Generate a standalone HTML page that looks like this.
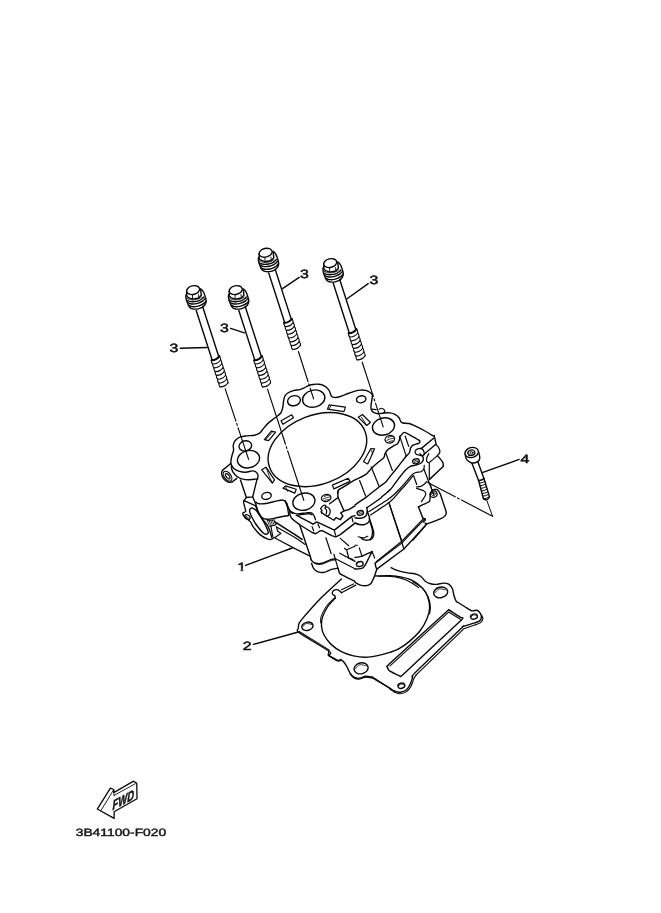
<!DOCTYPE html>
<html><head><meta charset="utf-8"><title>3B41100-F020</title>
<style>
html,body{margin:0;padding:0;background:#fff;}
body{width:661px;height:913px;overflow:hidden;font-family:"Liberation Sans",sans-serif;}
svg{display:block;}
svg text{text-rendering:geometricPrecision;paint-order:stroke;font-family:"Liberation Sans",sans-serif;fill:#111;stroke:#111;stroke-width:0.55;}
</style></head><body>
<svg width="661" height="913" viewBox="0 0 661 913">
<g fill="none" stroke="#080808" stroke-width="1.4" stroke-linecap="round" stroke-linejoin="round">
<defs><g id="bolt"><path d="M323.32 267.51 C323.25 267.85 322.87 268.56 322.92 269.51 C322.97 270.47 323.33 272.2 323.6 273.23 C323.88 274.26 324.26 274.86 324.58 275.69 C324.89 276.52 325.05 277.37 325.49 278.21 C325.93 279.05 326.5 280.12 327.21 280.72 C327.91 281.32 328.87 281.57 329.72 281.81 C330.57 282.05 331.34 282.15 332.3 282.15 C333.25 282.15 334.49 282.01 335.44 281.81 C336.39 281.61 337.2 281.31 338.02 280.95 C338.83 280.59 339.66 280.13 340.3 279.64 C340.94 279.14 341.42 278.57 341.85 277.98 C342.28 277.39 342.65 276.74 342.88 276.09 C343.1 275.44 343.22 274.85 343.22 274.09 C343.22 273.33 343.08 272.42 342.88 271.52 C342.68 270.61 342.38 269.7 342.02 268.66 C341.66 267.61 341.18 266.18 340.7 265.23 C340.23 264.27 339.67 263.51 339.16 262.94 C338.64 262.37 337.87 261.98 337.61 261.79" fill="#fff"/>
<path d="M323.6 273.23 C324.05 273.42 325.27 274.12 326.29 274.38 C327.31 274.63 328.58 274.77 329.72 274.78 C330.87 274.79 332.06 274.64 333.15 274.43 C334.25 274.22 335.3 273.96 336.3 273.52 C337.3 273.08 338.4 272.39 339.16 271.8 C339.92 271.21 340.59 270.28 340.87 269.97"/>
<path d="M324.58 275.69 C325.05 275.87 326.48 276.55 327.44 276.78 C328.39 277.01 329.25 277.08 330.3 277.06 C331.34 277.04 332.63 276.89 333.73 276.66 C334.82 276.43 335.82 276.15 336.87 275.69 C337.92 275.23 339.09 274.64 340.02 273.92 C340.94 273.19 342.02 271.77 342.42 271.34"/>
<path d="M325.49 278.21 C325.93 278.41 327.21 279.14 328.12 279.41 C329.04 279.67 329.95 279.81 330.98 279.81 C332.01 279.81 333.22 279.64 334.3 279.41 C335.38 279.18 336.38 278.89 337.44 278.44 C338.51 277.98 339.76 277.37 340.7 276.66 C341.65 275.96 342.7 274.61 343.1 274.2"/>
<path d="M324 271.23 C324.43 271.44 325.62 272.2 326.58 272.49 C327.53 272.77 328.63 272.93 329.72 272.95 C330.82 272.96 332.11 272.81 333.15 272.6 C334.2 272.39 335.11 272.11 336.01 271.69 C336.92 271.27 338.16 270.35 338.59 270.09" stroke-width="0.8"/>
<path d="M323.72 264.08 L323.89 269.06 L325.43 270.54 L329.72 272.09 L335.73 270.94 L338.42 268.26 L337.73 262.65" fill="#fff"/>
<path d="M329.55 268.26 L329.72 272.09" stroke-width="0.9"/>
<path d="M335.56 267.57 L335.84 270.89" stroke-width="0.9"/>
<ellipse cx="330.25" cy="263.11" rx="6.6" ry="4.3" transform="rotate(-14 330.25 263.11)" fill="#fff"/>
<path d="M333.32 283.48 L349.26 332.97"/>
<path d="M339.78 279.72 L355.75 329.31"/>
<path d="M348.55 333.2 Q348.3 335.38 349.77 337.01 Q349.53 339.19 351 340.82 Q350.75 343 352.22 344.63 Q351.98 346.8 353.45 348.43 Q353.21 350.61 354.68 352.24 Q354.43 354.42 355.9 356.05 Q355.66 358.23 357.13 359.85 " stroke-width="1.1"/>
<path d="M356.49 329.17 Q357.96 330.8 357.72 332.98 Q359.19 334.61 358.94 336.79 Q360.41 338.42 360.17 340.6 Q361.64 342.22 361.4 344.4 Q362.87 346.03 362.62 348.21 Q364.09 349.84 363.85 352.02 Q365.32 353.64 365.07 355.82 " stroke-width="1.1"/>
<path d="M348.55 333.2 Q353.54 333.38 356.49 329.17" stroke-width="2.0"/>
<path d="M349.77 337.01 Q354.77 337.19 357.72 332.98" stroke-width="1.15"/>
<path d="M351 340.82 Q355.99 341 358.94 336.79" stroke-width="1.15"/>
<path d="M352.22 344.63 Q357.22 344.8 360.17 340.6" stroke-width="1.15"/>
<path d="M353.45 348.43 Q358.44 348.61 361.4 344.4" stroke-width="1.15"/>
<path d="M354.68 352.24 Q359.67 352.42 362.62 348.21" stroke-width="1.15"/>
<path d="M355.9 356.05 Q360.9 356.22 363.85 352.02" stroke-width="1.15"/>
<path d="M357.13 359.85 Q362.12 360.03 365.07 355.82" stroke-width="1.15"/></g></defs>
<use href="#bolt" transform="translate(-137.1 27)"/>
<use href="#bolt" transform="translate(-94.5 27)"/>
<use href="#bolt" transform="translate(-64.6 -10.4)"/>
<use href="#bolt" transform="translate(0 0)"/>
<path d="M298.32 628.25 C298.32 627.13 298.55 624.44 299.08 623.25 C299.61 622.07 300.39 620.97 302.86 618.11 C305.33 615.25 315.84 603.21 320.26 598.74 C324.67 594.28 332.41 583.47 340.68 579.83 C348.96 576.2 384.76 568.74 391.18 567.58 C397.6 566.41 394.66 569.41 395.72 569.85 C396.78 570.29 398.85 571.01 400.26 571.36 C401.67 571.71 406.14 572.59 407.82 572.87 C409.5 573.16 413.13 573.39 414.63 573.78 C416.13 574.17 419.45 575.34 420.68 576.2 C421.92 577.07 424.07 580.31 425.22 581.2 C426.37 582.08 429.19 583.4 430.51 583.77 C431.84 584.14 435.07 584.44 436.57 584.37 C438.07 584.3 441.96 583.18 443.37 583.16 C444.79 583.14 447.61 583.57 448.67 584.22 C449.73 584.87 451.83 587.44 452.45 588.76 C453.07 590.08 453.52 594.1 453.96 595.57 C454.4 597.03 455.75 600.5 456.23 601.32 C456.71 602.13 457.07 601.89 458.08 602.53 C459.09 603.16 463.3 605.79 464.89 606.76 C466.48 607.73 470.28 610.44 471.69 610.85 C473.11 611.25 475.97 609.92 476.99 610.24 C478.01 610.56 479.96 612.71 480.47 613.57 C480.98 614.44 481.52 616.77 481.38 617.66 C481.24 618.54 480.04 620.52 479.26 621.13 C478.48 621.75 476.31 622.42 474.72 622.95 C473.13 623.48 467.09 625.21 465.64 625.67 C464.2 626.13 462.91 626.5 462.31 626.88 C461.71 627.27 466.02 623.64 460.5 629 C454.97 634.37 420.54 667.23 414.96 672.87 C409.38 678.52 413.31 675.97 412.69 677.41 C412.08 678.86 410.46 683.78 409.67 685.28 C408.87 686.78 407.03 689.46 405.89 690.27 C404.74 691.08 401.25 692.2 399.83 692.24 C398.42 692.27 394.93 691.03 393.78 690.57 C392.63 690.12 392.49 689.88 390 688.31 C387.51 686.73 375.29 678.52 372.45 677.11 C369.61 675.7 367.23 676.06 365.64 676.2 C364.05 676.34 360.25 678.25 358.84 678.32 C357.42 678.39 354.56 677.41 353.54 676.81 C352.52 676.21 350.91 674.48 350.06 673.18 C349.21 671.87 347.25 667.13 346.28 665.61 C345.31 664.09 342.66 660.7 341.74 660.17 C340.82 659.64 339.95 661.6 338.41 661.07 C336.88 660.54 329.6 656.72 328.58 655.63 C327.55 654.53 333.08 654.36 329.64 651.69 C326.2 649.03 302.73 635.52 299.08 632.78 C295.42 630.05 298.32 629.36 298.32 628.25Z" fill="#fff" stroke="none"/>
<path d="M372.45 677.11 C371.66 677 367.23 676.06 365.64 676.2 C364.05 676.34 360.25 678.25 358.84 678.32 C357.42 678.39 354.56 677.41 353.54 676.81 C352.52 676.21 350.91 674.48 350.06 673.18 C349.21 671.87 347.25 667.13 346.28 665.61 C345.31 664.09 342.66 660.7 341.74 660.17 C340.82 659.64 339.95 661.6 338.41 661.07 C336.88 660.54 329.6 656.72 328.58 655.63 C327.55 654.53 333.08 654.36 329.64 651.69 C326.2 649.03 302.73 635.52 299.08 632.78 C295.42 630.05 298.32 629.36 298.32 628.25 C298.32 627.13 298.55 624.44 299.08 623.25 C299.61 622.07 300.39 620.97 302.86 618.11 C305.33 615.25 315.76 603.3 320.26 598.74 C324.76 594.19 338.97 581.37 341.44 579.08"/>
<path d="M391.18 567.58 C391.71 567.84 394.66 569.41 395.72 569.85 C396.78 570.29 398.85 571.01 400.26 571.36 C401.67 571.71 406.14 572.59 407.82 572.87 C409.5 573.16 413.13 573.39 414.63 573.78 C416.13 574.17 419.45 575.34 420.68 576.2 C421.92 577.07 424.07 580.31 425.22 581.2 C426.37 582.08 429.19 583.4 430.51 583.77 C431.84 584.14 435.07 584.44 436.57 584.37 C438.07 584.3 441.96 583.18 443.37 583.16 C444.79 583.14 447.61 583.57 448.67 584.22 C449.73 584.87 451.83 587.44 452.45 588.76 C453.07 590.08 453.52 594.1 453.96 595.57 C454.4 597.03 455.75 600.5 456.23 601.32 C456.71 602.13 457.07 601.89 458.08 602.53 C459.09 603.16 463.3 605.79 464.89 606.76 C466.48 607.73 470.28 610.44 471.69 610.85 C473.11 611.25 475.97 609.92 476.99 610.24 C478.01 610.56 479.96 612.71 480.47 613.57 C480.98 614.44 481.52 616.77 481.38 617.66 C481.24 618.54 480.04 620.52 479.26 621.13 C478.48 621.75 476.31 622.42 474.72 622.95 C473.13 623.48 467.09 625.21 465.64 625.67 C464.2 626.13 462.91 626.5 462.31 626.88 C461.71 627.27 466.02 623.64 460.5 629 C454.97 634.37 420.54 667.23 414.96 672.87 C409.38 678.52 413.31 675.97 412.69 677.41 C412.08 678.86 410.46 683.78 409.67 685.28 C408.87 686.78 407.03 689.46 405.89 690.27 C404.74 691.08 401.25 692.2 399.83 692.24 C398.42 692.27 394.93 691.03 393.78 690.57 C392.63 690.12 392.49 689.88 390 688.31 C387.51 686.73 374.5 678.42 372.45 677.11"/>
<path d="M298.77 631.27 L329.03 649.88 L328.12 655.02 L338.11 660.47 L341.13 659.26" stroke-width="1.15"/>
<path d="M350.06 674.08 C350.47 674.51 352.52 677.12 353.54 677.72 C354.56 678.32 357.42 679.3 358.84 679.23 C360.25 679.16 364.05 677.25 365.64 677.11 C367.23 676.97 371.66 677.91 372.45 678.02" stroke-width="1.15"/>
<path d="M372.45 678.02 L389.85 688.31 L390 689.21 L393.78 691.48" stroke-width="1.15"/>
<path d="M393.78 691.94 C394.49 692.15 398.33 693.79 399.83 693.75 C401.33 693.72 405.35 692.48 406.64 691.63 C407.93 690.79 410.03 688.01 410.88 686.49 C411.72 684.97 413.29 679.98 413.9 678.62 C414.52 677.26 415.91 675.28 416.17 674.84" stroke-width="1.15"/>
<path d="M416.17 674.84 L461.71 630.82 L463.83 628.7 L475.48 624.77" stroke-width="1.15"/>
<path d="M475.48 624.77 C476.08 624.52 479.76 623.39 480.62 622.65 C481.49 621.91 482.77 619.26 482.89 618.41 C483.01 617.56 481.82 615.74 481.68 615.39" stroke-width="1.15"/>
<path d="M335.39 597.99 C334.13 599.37 329.96 603.16 327.82 606.31 C325.68 609.46 323.59 613.62 322.53 616.9 C321.47 620.18 321.22 622.95 321.47 625.98 C321.72 629 322.48 632.03 324.04 635.05 C325.6 638.08 327.95 641.36 330.85 644.13 C333.75 646.9 337.66 649.73 341.44 651.69 C345.22 653.66 349.51 655 353.54 655.93 C357.57 656.86 361.61 657.34 365.64 657.29 C369.68 657.24 373.71 656.43 377.75 655.63 C381.78 654.82 386.29 653.61 389.85 652.45 C393.4 651.29 395.77 650.56 399.08 648.67 C402.38 646.78 406.14 644.13 409.67 641.1 C413.2 638.08 417.36 634.3 420.26 630.51 C423.16 626.73 425.5 622.19 427.07 618.41 C428.63 614.63 429.51 611.35 429.64 607.82 C429.76 604.29 429.01 600.51 427.82 597.23 C426.64 593.95 425.05 590.93 422.53 588.15 C420.01 585.38 416.35 582.48 412.69 580.59 C409.04 578.7 404.37 577.61 400.59 576.81 C396.81 576 393.84 575.9 390 575.75 C386.16 575.6 380.9 575.82 377.56 575.9 C374.23 575.98 371.26 576.15 370 576.2" fill="#fff"/>
<path d="M333.87 597.99 C332.61 599.37 328.45 603.16 326.31 606.31 C324.17 609.46 321.95 614.13 321.01 616.9 C320.08 619.67 320.76 621.94 320.71 622.95" stroke-width="1.0"/>
<path d="M412.69 581.8 C414.41 582.96 420.36 586.14 422.98 588.76 C425.6 591.38 427.19 594.48 428.43 597.53 C429.66 600.58 430.19 604.34 430.39 607.07 C430.6 609.79 429.76 612.74 429.64 613.87" stroke-width="1.05"/>
<path d="M335.39 597.99 C335.31 597.69 335.16 596.22 334.78 595.72 C334.4 595.21 332.75 594.81 332.51 594.21 C332.27 593.6 332.48 591.79 332.97 591.18 C333.45 590.57 335.3 589.75 336.14 589.67 C336.99 589.59 338.61 590.17 339.32 590.57 C340.03 590.98 341.15 592.41 341.44 592.69"/>
<path d="M341.44 592.69 L355.81 585.13" stroke-width="1.15"/>
<path d="M341.44 589.67 L353.54 583.92" stroke-width="1.15"/>
<ellipse cx="307.4" cy="626.28" rx="5.75" ry="4.08" transform="rotate(-14 307.4 626.28)"/>
<path d="M302.8 626.69 C303.37 626.18 304.76 624 306.25 623.62 C307.73 623.25 310.8 624.3 311.71 624.44" stroke-width="0.8"/>
<ellipse cx="361.1" cy="668.34" rx="7.11" ry="5.45" transform="rotate(-14 361.1 668.34)"/>
<path d="M355.42 668.88 C356.13 668.2 357.85 665.3 359.68 664.8 C361.52 664.3 365.31 665.7 366.44 665.89" stroke-width="0.8"/>
<ellipse cx="440.68" cy="592.39" rx="7.11" ry="5.3" transform="rotate(-14 440.68 592.39)"/>
<path d="M434.99 592.92 C435.7 592.26 437.42 589.43 439.26 588.95 C441.1 588.46 444.89 589.83 446.01 590.01" stroke-width="0.8"/>
<ellipse cx="473.96" cy="616.6" rx="3.48" ry="2.57" transform="rotate(-14 473.96 616.6)"/>
<path d="M471.18 616.85 C471.53 616.53 472.37 615.16 473.27 614.92 C474.17 614.69 476.02 615.35 476.57 615.44" stroke-width="0.8"/>
<ellipse cx="401.35" cy="685.73" rx="3.48" ry="2.57" transform="rotate(-14 401.35 685.73)"/>
<path d="M398.56 685.99 C398.91 685.67 399.75 684.3 400.65 684.06 C401.55 683.83 403.41 684.49 403.96 684.58" stroke-width="0.8"/>
<path d="M446.73 611.6 C450.37 608.34 448.46 609.89 449.3 610.24 C450.15 610.6 460.08 616.92 460.8 617.5 C461.53 618.08 464.88 616.49 461.41 619.92 C457.93 623.36 406.55 671.33 402.86 674.69 C399.16 678.05 400.61 676.12 399.83 675.9 C399.06 675.68 390.69 671.44 390 671.06 C389.31 670.68 388.48 669.8 388.34 669.55 C388.19 669.29 387.56 667.12 387.58 666.82 C387.6 666.52 385.09 667.87 388.64 664.55 C392.19 661.24 443.09 614.86 446.73 611.6Z"/>
<path d="M390 665.92 L448.7 612.06 L460.35 619.17" stroke-width="1.1"/>
<path d="M377.84 576.25 C379.04 576.25 384.25 576.11 386.87 576.25 C389.49 576.4 394.94 576.81 397.49 577.32 C400.04 577.83 403.86 579.2 405.99 580.08 C408.11 580.96 411.72 582.88 413.42 583.9 C415.12 584.92 418.03 587.22 418.73 587.73" stroke-width="1.15"/>
<path d="M299.87 525.59 L310.49 556.92 L312.09 564.36 L316.87 571.26 L324.3 572.32 L331.74 569.14 L338.11 568.61 L340.24 573.92 L355 582.42 L360.31 585.07 L366.68 585.6 L370.93 583.48 L374.12 577.1 L376.24 568.61 L403.86 548.95 L425 526.12 L425 490 L355 490Z" fill="#fff" stroke="none"/>
<path d="M230.93 463.99 C230.93 463.46 230.76 462.22 230.93 460.81 C231.11 459.39 231.55 457.26 232 455.49 C232.44 453.72 233.38 451.95 233.59 450.18 C233.8 448.41 232.92 446.55 233.27 444.87 C233.62 443.19 234.51 441.42 235.71 440.09 C236.92 438.76 238.64 437.61 240.49 436.9 C242.35 436.2 244.57 436.11 246.87 435.84 C249.17 435.58 252.18 435.75 254.3 435.31 C256.43 434.87 258.29 434.07 259.61 433.19 C260.94 432.3 260.96 431.55 262.27 430 C263.58 428.45 265.36 425.9 267.49 423.87 C269.62 421.84 272.83 419.64 275.05 417.82 C277.27 416.01 279.49 414.87 280.8 412.98 C282.11 411.09 282.44 408.57 282.92 406.48 C283.4 404.38 283.33 402.18 283.68 400.42 C284.02 398.67 284.25 397.21 285 395.93 C285.75 394.65 286.77 393.63 288.19 392.75 C289.6 391.86 291.55 391.15 293.5 390.62 C295.45 390.09 298.1 390 299.87 389.56 C301.64 389.12 302.79 388.59 304.12 387.97 C305.45 387.35 306.42 386.43 307.84 385.84 C309.25 385.26 310.76 384.73 312.62 384.46 C314.48 384.2 317.04 384.02 318.99 384.25 C320.94 384.48 322.71 384.96 324.3 385.84 C325.9 386.73 327.53 388.23 328.55 389.56 C329.58 390.89 329.93 392.66 330.46 393.81 C331 394.96 330.91 395.85 331.74 396.46 C332.57 397.08 334.04 397.53 335.46 397.53 C336.87 397.53 338.02 397.17 340.24 396.46 C342.45 395.76 346.27 394.16 348.73 393.28 C351.2 392.39 353.07 391.68 355 391.15 C356.93 390.62 358.54 390.22 360.31 390.09 C362.08 389.97 364.03 390.06 365.62 390.41 C367.22 390.76 368.72 391.47 369.87 392.22 C371.02 392.96 372.08 394.43 372.53 394.87" fill="#fff"/>
<path d="M372.53 394.87 C372.46 395.44 372.18 397.85 372 399.12 C371.81 400.4 371.29 403.23 371.15 404.43 C371 405.64 370.82 407.27 370.93 408.15 C371.05 409.03 371.5 410.38 372 411.02 C372.49 411.65 373.8 412.56 374.65 412.93 C375.5 413.3 377.17 413.78 378.37 413.78 C379.57 413.78 382.12 413.04 383.68 412.93 C385.24 412.82 388.5 412.72 390.05 412.93 C391.61 413.14 394.16 413.89 395.37 414.52 C396.57 415.16 398.38 416.79 399.08 417.71 C399.79 418.63 400.18 420.72 400.68 421.43 C401.17 422.14 401.67 422.74 402.8 423.02 C403.93 423.3 407.62 423.2 409.17 423.55 C410.73 423.91 412.38 424.69 414.49 425.68 C416.6 426.67 422.5 429.62 425 430.99 C427.5 432.36 432.14 435.27 433.24 435.93"/>
<path d="M371.46 409.21 L376.24 409.53" stroke-width="1.2"/>
<path d="M379.22 409.21 C379.61 409.05 380.78 408.2 381.56 408.26 C382.34 408.31 383.36 408.96 383.89 409.53 C384.42 410.1 384.78 411.09 384.74 411.65 C384.71 412.22 383.86 412.72 383.68 412.93" stroke-width="1.2"/>
<ellipse cx="317.4" cy="449.6" rx="51" ry="34.5" transform="rotate(-20.8 317.4 449.6)"/>
<ellipse cx="248.5" cy="459.2" rx="11.2" ry="8.6" transform="rotate(-14 248.5 459.2)"/>
<ellipse cx="245.3" cy="445.9" rx="6.4" ry="5" transform="rotate(-14 245.3 445.9)"/>
<ellipse cx="313.7" cy="398.6" rx="11.3" ry="8.5" transform="rotate(-14 313.7 398.6)"/>
<ellipse cx="383.5" cy="426.5" rx="11.2" ry="8.5" transform="rotate(-14 383.5 426.5)"/>
<ellipse cx="303.9" cy="501.7" rx="11.2" ry="8.5" transform="rotate(-14 303.9 501.7)"/>
<ellipse cx="294" cy="400.7" rx="6.5" ry="5" transform="rotate(-14 294 400.7)"/>
<ellipse cx="361.2" cy="399.3" rx="4.8" ry="3.4" transform="rotate(-14 361.2 399.3)"/>
<ellipse cx="266.5" cy="495.9" rx="4.8" ry="3.4" transform="rotate(-14 266.5 495.9)"/>
<ellipse cx="389.8" cy="439.3" rx="4.8" ry="3.7" transform="rotate(-14 389.8 439.3)" stroke-width="1.3"/>
<path d="M387.63 437.81 Q390.1 436.08 392.57 436.21" stroke-width="0.8"/>
<path d="M386.81 440.37 Q390.1 438.38 393.39 438.23" stroke-width="0.8"/>
<path d="M387.63 442.39 Q390.1 440.67 392.57 440.79" stroke-width="0.8"/>
<ellipse cx="326.2" cy="498" rx="4.8" ry="3.5" transform="rotate(-14 326.2 498)" stroke-width="1.3"/>
<path d="M324.03 496.63 Q326.5 494.95 328.97 495.03" stroke-width="0.8"/>
<path d="M323.21 499.07 Q326.5 497.12 329.79 496.93" stroke-width="0.8"/>
<path d="M324.03 500.97 Q326.5 499.3 328.97 499.37" stroke-width="0.8"/>
<path d="M329.08 404.96 L345.55 407.09 L343.95 411.65 L327.49 409.21Z" stroke-width="1.2"/>
<path d="M330.89 405.81 L329.19 409.11" stroke-width="0.85"/>
<path d="M281.1 420.85 L291.69 414.8 L293.51 417.82 L282.92 424.33Z" stroke-width="1.2"/>
<path d="M264.39 439.56 L271.3 431.06 L275.55 432.12 L268.64 440.62Z" stroke-width="1.2"/>
<path d="M265.99 439.35 L272.89 431.49" stroke-width="0.85"/>
<path d="M261.74 469.83 L265.99 467.18 L274.49 479.93 L272.36 483.11Z" stroke-width="1.2"/>
<path d="M266.84 469.3 L269.81 477.8 L272.15 482.26" stroke-width="0.85"/>
<path d="M282.92 488.17 L285.64 485.9 L296.23 489.23 L294.72 493.16Z" stroke-width="1.2"/>
<path d="M285.64 486.51 L287.46 491.35" stroke-width="0.85"/>
<path d="M358.19 417.18 L362.44 414.52 L370.4 422.49 L366.68 425.46Z" stroke-width="1.2"/>
<path d="M361.37 416.97 L365.83 423.76" stroke-width="0.85"/>
<path d="M370.93 448.51 L374.65 448.83 L367.75 463.92 L363.5 461.79Z" stroke-width="1.2"/>
<path d="M371.57 450.11 L372.63 454.57" stroke-width="0.85"/>
<path d="M332.36 485.13 L348.25 478.32 L350.06 481.35 L333.87 488.91Z" stroke-width="1.2"/>
<path d="M230.93 463.99 C231.38 464.7 232.17 467 233.59 468.24 C235.01 469.48 237.4 470.75 239.43 471.43 C241.47 472.1 243.68 472.37 245.81 472.28 C247.93 472.19 250.5 470.95 252.18 470.9 C253.86 470.84 254.92 471.25 255.9 471.96 C256.87 472.67 257.76 473.96 258.02 475.15 C258.29 476.33 257.58 478.42 257.49 479.08"/>
<path d="M231.25 466.12 C231.46 467 231.52 469.66 232.53 471.43 C233.54 473.2 235.45 475.41 237.31 476.74 C239.17 478.07 241.56 478.9 243.68 479.39 C245.81 479.89 248.02 479.77 250.05 479.71 C252.09 479.66 254.66 479.2 255.9 479.08 C257.14 478.95 257.22 478.99 257.49 478.97"/>
<path d="M230.4 463.78 L222.44 470.37"/>
<path d="M236.78 478.33 L232 482.05"/>
<path d="M222.44 470.37 C222.29 470.9 221.37 472.14 221.59 473.55 C221.8 474.97 222.6 477.45 223.71 478.86 C224.83 480.28 226.9 481.52 228.28 482.05 C229.66 482.58 231.38 482.05 232 482.05"/>
<ellipse cx="227.53" cy="476.21" rx="3.3" ry="5.6" transform="rotate(-38 227.53 476.21)" stroke-width="1.2"/>
<ellipse cx="227.73" cy="476.31" rx="1.5" ry="3.2" transform="rotate(-38 227.73 476.31)" stroke-width="1.2"/>
<path d="M240.49 479.93 L246.34 497.45 L252.71 496.92 L256.96 479.39"/>
<path d="M246.34 497.45 L243.68 501.17"/>
<path d="M252.71 496.92 L255.58 503.51"/>
<path d="M255.81 502.22 C256.23 502.43 257.43 503.67 258.99 503.81 C260.55 503.95 265.22 503.63 267.49 503.28 C269.76 502.92 273.93 501.58 275.99 501.15 C278.04 500.73 281.5 499.91 282.89 500.09 C284.28 500.28 285.68 501.47 286.4 502.53 C287.12 503.6 287.79 506.83 288.31 508.06 C288.83 509.29 289.71 511.07 290.33 511.78 C290.95 512.48 292.99 513.44 292.98 513.37 C292.98 513.3 289.82 511.17 290.31 511.24 C290.8 511.32 294.56 513.69 296.68 513.9 C298.81 514.11 304.26 512.98 306.24 512.84 C308.23 512.7 310.49 512.41 311.56 512.84 C312.62 513.26 313.69 515.1 314.21 516.03 C314.74 516.95 315.32 519.25 315.49 519.74"/>
<path d="M255.81 503.81 C255.95 504.38 256.44 506.78 256.87 508.06 C257.29 509.33 258.28 512.07 258.99 513.37 C259.7 514.67 261.05 517.05 262.18 517.83 C263.31 518.61 265.79 519.17 267.49 519.21 C269.19 519.25 272.94 518.5 274.93 518.15 C276.91 517.8 280.52 516.91 282.36 516.56 C284.2 516.2 287.89 515.64 288.73 515.49"/>
<path d="M286.93 503.81 L288.73 515.49" stroke-width="1.2"/>
<path d="M285 500.62 C285.28 501.33 286.42 504.52 287.12 505.93 C287.83 507.35 289.89 510.54 290.31 511.24"/>
<path d="M296.15 515.49 L300.93 514.64 L309.43 513.58 L311.77 514.64" stroke-width="1.2"/>
<path d="M244.12 500.62 C244.06 500.87 243.4 501.51 243.59 502.75 C243.78 503.99 245.78 510.07 245.71 511.24 C245.65 512.42 243.29 512.32 243.06 512.84 C242.82 513.36 242.83 514.65 243.7 515.71 C244.56 516.76 249.43 520.63 250.49 521.87 C251.56 523.11 251.72 524.84 252.83 526.33 C253.95 527.82 258.37 533.15 260.05 534.61 C261.74 536.08 265.98 538.31 267.28 538.86 C268.58 539.42 270.41 539.56 271.21 539.39 C272 539.23 273.74 537.71 274.08 537.48"/>
<path d="M244.12 500.62 L255.81 505.93"/>
<path d="M255.81 505.93 C256.12 506.81 257.32 510.82 258.14 512.52 C258.96 514.22 260.72 516.98 261.97 518.68 C263.21 520.38 266.4 523.5 267.49 525.27 C268.58 527.04 269.58 530.36 270.15 531.96 C270.71 533.56 271.53 536.56 271.74 537.27"/>
<path d="M249.96 509.12 C250.36 508.7 251.7 507.77 252.62 508.06 C253.54 508.34 255.45 509.55 256.87 511.24 C258.28 512.94 261.75 518.11 263.24 520.81 C264.73 523.5 267.53 529.66 268.02 531.43 C268.52 533.2 267.6 533.87 266.96 534.08 C266.32 534.3 264.73 534.37 263.24 533.02 C261.75 531.68 257.43 526.33 255.81 523.99 C254.18 521.65 251.85 517.19 251.03 515.49 C250.2 513.79 249.79 512.09 249.64 511.24 C249.5 510.4 249.57 509.55 249.96 509.12Z"/>
<ellipse cx="247.31" cy="517.09" rx="3" ry="2.1" transform="rotate(30 247.31 517.09)" stroke-width="1.2"/>
<path d="M245.71 516.03 L248.9 518.47" stroke-width="0.8"/>
<path d="M267.49 520.59 L268.98 524.63" stroke-width="0.8"/>
<path d="M269.08 520.38 L270.57 524.42" stroke-width="0.8"/>
<path d="M270.68 520.17 L272.16 524.2" stroke-width="0.8"/>
<path d="M272.27 519.96 L273.76 523.99" stroke-width="0.8"/>
<path d="M273.86 519.74 L275.35 523.78" stroke-width="0.8"/>
<path d="M266.96 520.81 L274.93 519.96" stroke-width="0.8"/>
<path d="M269.61 526.12 L274.93 525.05 L277.05 523.14" stroke-width="1.2"/>
<path d="M270.89 526.12 L272.8 536.74" stroke-width="1.2"/>
<path d="M274.93 537.48 L280.77 533.55" stroke-width="1.2"/>
<path d="M276.63 527.39 L277.69 531.22 L280.66 533.34" stroke-width="1.2"/>
<path d="M274.93 521.87 L295 534.61 L302 539.39" stroke-width="1.7"/>
<path d="M276.2 526.65 L295 537.48 L305.18 544.39" stroke-width="1.2"/>
<path d="M274.93 538.01 L295 548.64 L309.43 555.86" stroke-width="1.2"/>
<path d="M285 550.76 L292.44 547.89" stroke-width="1.2"/>
<path d="M296.68 515.49 L313.15 524.2 L316.87 521.87 L334.39 530.15 L351.92 516.34 L355 515.71"/>
<path d="M289.25 511.24 C289.53 512.12 290.03 516.06 291.37 517.83 C292.72 519.6 298.28 523.63 299.34 524.52"/>
<path d="M299.34 524.52 L312.09 532.49 L315.81 533.76 L319.84 531 L322.18 530.58 L331.74 535.68 L335.78 536.95 L340.24 534.61 L355 523.14"/>
<path d="M312.09 526.65 L313.68 530.9" stroke-width="1.2"/>
<path d="M317.93 523.99 L319.52 527.71" stroke-width="1.2"/>
<path d="M334.39 530.9 L335.56 535.15" stroke-width="1.2"/>
<path d="M351.92 517.62 L352.98 521.87" stroke-width="1.2"/>
<path d="M320.59 508.59 C320.87 508.24 322 506.36 322.71 505.93 C323.42 505.51 325.54 505.19 325.9 505.4 C326.25 505.62 325.15 507.31 325.37 507.53 C325.58 507.74 326.92 506.78 327.49 507 C328.06 507.21 329.26 508.41 329.61 509.12 C329.97 509.83 330.29 511.46 330.15 512.31 C330 513.16 329.05 515 328.55 515.49 C328.06 515.99 326.71 515.95 326.43 516.03" stroke-width="1.2"/>
<path d="M320.59 508.59 L322.18 510.71 L320.9 511.78 L322.39 513.37 L321.65 512.84" stroke-width="1.2"/>
<path d="M324.83 508.06 C325.08 508.41 326.46 509.93 326.64 510.71 C326.82 511.49 326.27 513.48 326.22 513.9" stroke-width="1.2"/>
<path d="M321.65 512.84 L333.86 520.27 L335.99 517.62 L340.24 519.74 L342.89 516.03 L340.77 512.84 L344.49 510.71 L348.73 509.65 L355 505.93"/>
<path d="M329.61 503.81 L338.11 497.44 L337.58 492.12 L338.64 490"/>
<path d="M338.11 497.44 L343.95 510.71"/>
<path d="M361.37 476.98 C362.08 476.54 365.38 474.79 366.68 473.69 C367.99 472.59 369.73 470.11 371.15 468.7 C372.56 467.28 375.64 464.51 377.31 463.07 C378.98 461.62 382.66 459.09 383.68 457.86 C384.7 456.63 384.39 454.93 384.96 453.83 C385.52 452.72 386.82 450.61 387.93 449.58 C389.03 448.54 391.99 446.82 393.24 446.07 C394.49 445.32 396.47 444.71 397.28 443.95 C398.08 443.18 398.96 441.38 399.3 440.34 C399.64 439.29 399.76 436.65 399.83 436.09"/>
<path d="M359.59 480.59 L365.64 496.02" stroke-width="1.2"/>
<ellipse cx="360.31" cy="512.84" rx="3.3" ry="2.4" transform="rotate(-14 360.31 512.84)" stroke-width="1.3"/>
<path d="M358.63 512.74 Q360.61 511.49 362.59 511.45" stroke-width="0.8"/>
<path d="M358.63 514.22 Q360.61 512.98 362.59 512.94" stroke-width="0.8"/>
<path d="M355 517.83 C355.71 517.89 358.89 518.48 360.31 518.26 C361.73 518.03 364.69 517.04 365.62 516.13 C366.56 515.22 367.18 512.6 367.32 511.46 C367.46 510.31 366.77 508.05 366.68 507.53"/>
<path d="M367.32 511.46 C367.61 512.28 369.25 516.23 369.45 517.62 C369.64 519.01 369.46 520.95 368.81 521.87 C368.16 522.79 365.83 524.17 364.56 524.52 C363.29 524.88 360.52 524.74 359.25 524.52 C357.97 524.31 355.57 523.14 355 522.93"/>
<path d="M369.45 518.68 C369.79 519.67 371.43 524.28 372 526.12 C372.56 527.96 373.61 530.93 373.7 532.49 C373.78 534.05 373.28 536.81 372.63 537.8 C371.98 538.79 369.89 539.64 368.81 539.93 C367.73 540.21 365.55 540.14 364.56 539.93 C363.57 539.71 361.8 538.54 361.37 538.33"/>
<path d="M358.19 536.74 C358.89 536.88 362.22 537.87 363.5 537.8 C364.77 537.73 367.18 536.42 367.75 536.21" stroke-width="1.2"/>
<path d="M299.87 525.59 L310.49 556.92"/>
<path d="M325.9 537.8 L331.21 553.73" stroke-width="1.2"/>
<path d="M333.86 554.27 L338.11 568.61" stroke-width="1.2"/>
<path d="M340.24 538.33 L348.73 545.77" stroke-width="1.2"/>
<path d="M388.99 503.28 L401.74 542.05 L403.86 548.95" stroke-width="1.2"/>
<path d="M310.49 556.92 C310.64 557.42 310.85 559.79 311.56 560.64 C312.26 561.49 314.39 562.94 315.81 563.3 C317.22 563.65 320.34 563.72 322.18 563.3 C324.02 562.87 327.91 560.7 329.61 560.11 C331.31 559.51 334.22 559 334.93 558.83"/>
<path d="M311.13 559.05 C311.36 559.44 312.14 561.34 312.83 562.02 C313.52 562.7 315.09 563.86 316.34 564.14 C317.58 564.43 320.41 564.54 322.18 564.14 C323.95 563.75 327.91 561.74 329.61 561.17 C331.31 560.6 334.22 560.07 334.93 559.9" stroke-width="0.9"/>
<path d="M311.56 563.3 C311.84 564 312.83 567.47 313.68 568.61 C314.53 569.74 316.51 571.3 317.93 571.79 C319.35 572.29 322.6 572.61 324.3 572.32 C326 572.04 328.91 570.24 330.68 569.67 C332.45 569.1 336.66 568.29 337.58 568.08"/>
<path d="M344.49 548.42 L346.61 549.7 L355 546.3" stroke-width="1.2"/>
<path d="M346.61 549.7 L348.73 557.98 L352.98 559.58" stroke-width="1.2"/>
<path d="M339.71 553.2 L355 561.38" stroke-width="1.2"/>
<path d="M335.99 559.05 L355 568.82" stroke-width="1.2"/>
<path d="M338.11 568.61 C338.29 569.05 338.83 572.86 340.24 573.92 C341.64 574.98 353.77 580.73 355 581.35"/>
<path d="M375.18 563.3 L401.74 543.11 L425 518.68" stroke-width="1.2"/>
<path d="M376.24 561.81 L400.89 542.05 L423.2 518.89" stroke-width="1.2"/>
<path d="M376.78 569.14 L403.86 548.95 L425 526.12"/>
<path d="M375.18 563.3 L375.71 566.48 L376.78 569.14"/>
<ellipse cx="359.78" cy="564.04" rx="3.4" ry="2.4" transform="rotate(-14 359.78 564.04)"/>
<path d="M355 557.45 C355.64 557.35 359.67 556.97 361.37 556.39 C363.07 555.81 370.93 552.09 372 551.61"/>
<path d="M372 551.61 C371.57 552.46 369.66 556.28 368.81 557.98 C367.96 559.68 366.47 563.01 365.62 564.36 C364.77 565.7 363.85 567.44 362.44 568.08 C361.02 568.71 355.99 569 355 569.14"/>
<path d="M372 551.4 L374.65 557.98" stroke-width="1.2"/>
<path d="M359.25 547.89 L361.9 555.86" stroke-width="1.2"/>
<path d="M355 545.24 L357.34 545.24" stroke-width="1.2"/>
<path d="M376.78 569.14 C376.42 570.2 374.9 575.19 374.12 577.1 C373.34 579.02 371.93 582.34 370.93 583.48 C369.94 584.61 368.1 585.39 366.68 585.6 C365.27 585.81 361.87 585.5 360.31 585.07 C358.75 584.65 355.71 582.77 355 582.42"/>
<path d="M399.65 437.02 C399.97 436.71 403.16 432.18 404.49 432.42 C405.82 432.66 418.65 439.94 419.62 440.65 C420.59 441.36 419.46 442.77 419.02 443.07 C418.57 443.37 413.53 444.79 412.97 445.13 C412.4 445.47 410.79 447.63 410.54 448.15 C410.3 448.68 409.62 452.47 409.33 453 C409.05 453.52 406.51 455.82 406.31 456.02"/>
<path d="M400.26 437.87 L406.07 455.66" stroke-width="1.2"/>
<path d="M405.1 436.05 L408.73 446.34" stroke-width="1.2"/>
<path d="M385.73 453 L392.39 470.54" stroke-width="1.2"/>
<path d="M371.21 466.91 L379.08 486.28" stroke-width="1.2"/>
<path d="M355 504.87 C356.24 504.03 362.88 499.68 365.62 497.65 C368.36 495.62 376.13 489.31 378.47 487.49 C380.82 485.67 384.39 483.31 385.73 482.04 C387.08 480.77 388.84 478.01 389.97 476.6 C391.1 475.18 393.51 472.34 395.42 469.94 C397.32 467.54 405.04 457.64 406.31 456.02"/>
<path d="M367.22 507.53 C368.76 506.45 378.76 499.56 380.49 498.29 C382.23 497.01 380.93 497.61 382.1 496.57 C383.28 495.52 388.74 491.28 390.57 489.3 C392.41 487.33 396.14 481.81 397.84 479.62 C399.53 477.43 403.69 472.07 405.1 470.54 C406.51 469.02 408.7 467.19 409.94 466.55 C411.18 465.92 414.48 465.48 415.75 465.1 C417.02 464.72 419.96 463.88 420.83 463.28 C421.71 462.69 423.03 460.79 423.25 460.02 C423.48 459.24 423.16 457.36 422.77 456.63 C422.37 455.89 420.2 454.06 419.86 453.72"/>
<path d="M416.23 454.21 C415.85 453.8 414.96 452.43 415.02 451.79 C415.09 451.14 415.94 449.82 416.72 449.36 C417.49 448.91 419.96 448.3 420.83 448.4 C421.7 448.49 422.8 449.24 423.25 450.09 C423.7 450.95 424.54 454.07 424.22 454.81 C423.9 455.55 421.67 455.66 420.83 455.66 C419.99 455.66 418.54 455 417.93 454.81 C417.31 454.62 416.62 454.61 416.23 454.21Z" stroke-width="1.25"/>
<ellipse cx="415.99" cy="461.23" rx="3.4" ry="2.5" transform="rotate(-14 415.99 461.23)" stroke-width="1.3"/>
<path d="M414.25 461.11 Q416.29 459.83 418.33 459.79" stroke-width="0.8"/>
<path d="M414.25 462.66 Q416.29 461.38 418.33 461.34" stroke-width="0.8"/>
<path d="M368.81 511.78 C369.68 511.22 374.01 508.42 376.24 507 C378.48 505.57 385.95 500.92 387.93 499.56 C389.91 498.2 392 496.43 393.24 495.31 C394.48 494.2 397.45 491.12 398.55 490 C399.65 488.88 401.35 487.17 402.68 485.67 C404.01 484.18 408.81 478.5 409.94 477.2 C411.07 475.9 411.65 475.09 412.36 474.54 C413.07 473.99 415 472.81 415.99 472.48 C416.98 472.16 419.91 472.16 420.83 471.75 C421.75 471.35 423.46 469.72 423.86 468.97 C424.25 468.22 424.18 465.76 424.22 465.34" stroke-width="1.25"/>
<path d="M370.4 514.96 C371.27 514.41 375.55 511.73 377.84 510.18 C380.13 508.63 388.01 503.3 390.05 501.68 C392.1 500.07 394.13 497.74 395.37 496.37 C396.6 495.01 399.71 491.08 400.68 490 C401.64 488.92 402.45 488.48 403.65 487.13 C404.84 485.77 409.86 479.68 410.91 478.41 C411.95 477.14 412.4 476.49 412.6 476.23" stroke-width="1.25"/>
<path d="M413.57 475.51 L416.72 484.46" stroke-width="1.2"/>
<path d="M416.6 486.88 C417.16 486.82 419.78 486.79 420.83 486.4 C421.88 486.01 423.66 484.66 424.46 483.98 C425.27 483.3 426.56 481.67 426.88 481.32" stroke-width="1.2"/>
<path d="M416.6 488.34 C417.26 488.55 422.34 490.05 423.25 490.51 C424.16 490.97 425.49 492.38 425.67 492.93 C425.85 493.49 425.49 495.21 425.07 496.08 C424.64 496.95 421.8 501.09 421.44 501.65" stroke-width="1.2"/>
<path d="M423.98 469.33 L428.82 482.04" stroke-width="1.2"/>
<path d="M428.82 482.04 L433.9 494.75" stroke-width="1.2"/>
<path d="M430.51 483.86 L432.45 492.93" stroke-width="0.9"/>
<ellipse cx="433.54" cy="494.15" rx="3.6" ry="3.1" transform="rotate(-20 433.54 494.15)" stroke-width="1.25"/>
<ellipse cx="433.54" cy="494.15" rx="1.9" ry="1.5" transform="rotate(-20 433.54 494.15)" stroke-width="0.7"/>
<path d="M418.41 506.85 C418.9 506.61 422.14 504.98 423.25 504.43 C424.37 503.89 428.84 502.31 429.55 501.41 C430.25 500.5 429.99 496.47 430.27 495.36 C430.55 494.24 431.64 490.85 432.33 490.27 C433.02 489.69 436.38 489.18 437.17 489.55 C437.96 489.91 439.58 492.54 440.2 493.9 C440.81 495.27 442.74 501.38 443.34 503.22 C443.95 505.06 446.08 511.03 446.25 512.3 C446.42 513.57 445.52 515.33 445.04 515.93 C444.55 516.54 443.22 517.56 441.41 518.35 C439.59 519.14 428.52 523.34 426.88 523.8 C425.25 524.26 425.25 523.03 425.07 522.95"/>
<path d="M418.41 506.85 L422.77 517.87"/>
<path d="M422.77 517.87 L425.43 519.32" stroke-width="1.2"/>
<path d="M423.25 522.22 L425.43 520.17 L425.07 518.96" stroke-width="1.2"/>
<path d="M412.97 540.02 L426.88 523.8"/>
<path d="M389.36 503.83 L401.47 540.02" stroke-width="1.2"/>
<path d="M370 521.98 C370.32 523.11 372.18 528.52 372.42 530.45 C372.66 532.39 372.14 535.23 371.82 536.51 C371.49 537.78 370.24 539.55 370 540.02" stroke-width="1.2"/>
<path d="M434.15 435.45 L436.08 444.04"/>
<path d="M420.83 448.88 L433.66 438.23"/>
<path d="M423.98 454.21 L435.6 444.52"/>
<path d="M435.96 444.52 C436.36 445.01 438.49 447.09 438.99 448.15 C439.49 449.22 439.94 451.51 439.71 452.51 C439.49 453.51 438.65 454.37 437.29 455.66 C435.94 456.95 430.93 461.42 429.55 462.19 C428.16 462.97 427.24 462.11 426.88 461.47 C426.53 460.82 426.63 458.39 426.88 457.35 C427.14 456.32 428.56 454.21 428.82 453.72" stroke-width="1.25"/>
<path d="M437.78 456.02 C438.42 456.83 441.87 460.7 442.62 462.07 C443.36 463.44 443.25 465.74 443.34 466.31"/>
<path d="M443.34 466.31 L429.3 479.62"/>
<path d="M429.3 462.92 L429.3 479.02" stroke-width="1.2"/>
<path d="M337.82 493.16 C337.93 492.77 337.85 490.68 338.73 489.83 C339.61 488.99 343.55 487.03 345.39 485.9 C347.22 484.77 352.59 481.19 354.46 480.15 C356.33 479.11 360.61 477.34 361.42 476.97"/>
<path d="M225.2 388.9 L248.6 459.4" stroke-width="1.15" stroke-dasharray="34 2.5 2 2.5 100"/>
<path d="M267.5 389.1 L303.8 500.3" stroke-width="1.15" stroke-dasharray="58 2.5 2 2.5 100"/>
<path d="M298.4 351.5 L313.6 398.9" stroke-width="1.15" stroke-dasharray="31.5 2.5 2 2.5 100"/>
<path d="M362.2 362.2 L383.2 426.9" stroke-width="1.15" stroke-dasharray="36 2.5 2 2.5 100"/>
<path d="M180.2 348.2 L207.6 347.5"/>
<path d="M230.6 328.3 L244.4 332.9"/>
<path d="M299.2 277.4 L282.5 288.7"/>
<path d="M368.2 283.6 L347.1 298.7"/>
<path d="M245.6 565.4 L292.5 547.9"/>
<path d="M253.4 644.4 L297.6 632.3"/>
<path d="M519.1 459.4 L482.2 472.7"/>
<path d="M465.17 453.56 C465.29 454.22 465.53 456.42 465.89 457.55 C466.26 458.68 466.34 459.43 467.34 460.33 C468.35 461.24 470.21 462.79 471.94 463 C473.68 463.2 476.44 462.35 477.75 461.54 C479.06 460.74 479.65 459.73 479.81 458.15 C479.97 456.58 478.9 453.11 478.72 452.1" fill="#fff"/>
<ellipse cx="471.7" cy="452.47" rx="6.8" ry="5" transform="rotate(-14 471.7 452.47)" fill="#fff"/>
<ellipse cx="471.34" cy="452.71" rx="3.5" ry="2.7" transform="rotate(-14 471.34 452.71)"/>
<ellipse cx="471.44" cy="452.91" rx="1.6" ry="1.2" transform="rotate(-14 471.44 452.91)" stroke-width="0.9"/>
<path d="M471.94 463.36 L478.6 480.54 L483.44 498.7"/>
<path d="M478 462.15 L484.05 478.73 L489.49 496.88"/>
<path d="M483.44 498.7 C483.99 498.9 485.7 500.21 486.71 499.91 C487.72 499.61 489.03 497.39 489.49 496.88"/>
<path d="M478.6 480.54 Q481.2 480.73 484.05 478.73" stroke-width="1.5"/>
<path d="M479.29 483.14 Q481.94 483.32 484.82 481.32" stroke-width="1.0"/>
<path d="M479.98 485.73 Q482.67 485.91 485.6 483.92" stroke-width="1.0"/>
<path d="M480.68 488.33 Q483.41 488.51 486.38 486.51" stroke-width="1.0"/>
<path d="M481.37 490.92 Q484.14 491.1 487.16 489.1" stroke-width="1.0"/>
<path d="M482.06 493.51 Q484.88 493.69 487.94 491.7" stroke-width="1.0"/>
<path d="M482.75 496.11 Q485.61 496.29 488.72 494.29" stroke-width="1.0"/>
<path d="M483.44 498.7 Q486.35 498.88 489.49 496.88" stroke-width="1.0"/>
<path d="M487.1 501.1 L492.5 516.2" stroke-width="1.0"/>
<path d="M492.5 516.2 L427.7 482.5" stroke-width="1.15" stroke-dasharray="35 2.5 2 2.5 100"/>
<path d="M97.26 809.04 L110.42 788.16 L113.78 789.52 L114.14 792.43 L133.57 781.17 L136.75 783.35 L137.02 798.78 L114.14 811.76 L114.14 818.39Z" stroke-width="1.3" fill="#fff"/>
<path d="M101.07 810.4 L113.24 790.43" stroke-width="0.9"/>
<path d="M114.51 795.15 L135.2 783.8" stroke-width="0.9"/>
<path d="M113.42 789.98 L114.14 795.88" stroke-width="0.9"/>
</g>
<g opacity="0.99">
<text x="0" y="0" font-size="12" text-anchor="middle"  transform="translate(173.8 352.3) scale(1.32 1)">3</text>
<text x="0" y="0" font-size="12" text-anchor="middle"  transform="translate(224.4 331.7) scale(1.32 1)">3</text>
<text x="0" y="0" font-size="12" text-anchor="middle"  transform="translate(304.5 277.7) scale(1.32 1)">3</text>
<text x="0" y="0" font-size="12" text-anchor="middle"  transform="translate(373.9 284) scale(1.32 1)">3</text>
<text x="0" y="0" font-size="12" text-anchor="middle"  transform="translate(241.6 570.8) scale(1.32 1)">1</text>
<text x="0" y="0" font-size="12" text-anchor="middle"  transform="translate(247.1 649.8) scale(1.32 1)">2</text>
<text x="0" y="0" font-size="12" text-anchor="middle"  transform="translate(524.9 463) scale(1.32 1)">4</text>
<text x="0" y="0" font-size="13.6" font-weight="bold" font-style="italic" transform="matrix(0.70 -0.37 0 1 112.47 810.36)" style="stroke-width:0.55">FWD</text>
<text x="75.7" y="835.9" font-size="10.6" textLength="90.5" lengthAdjust="spacingAndGlyphs" style="stroke-width:0.42">3B41100-F020</text>
</g>
<g transform="translate(241.6 570.8) scale(1.32 1)" fill="#fff" stroke="none"><rect x="-3.6" y="-1.75" width="3.0" height="3"/><rect x="1.0" y="-1.75" width="3.0" height="3"/></g>
</svg>
</body></html>
